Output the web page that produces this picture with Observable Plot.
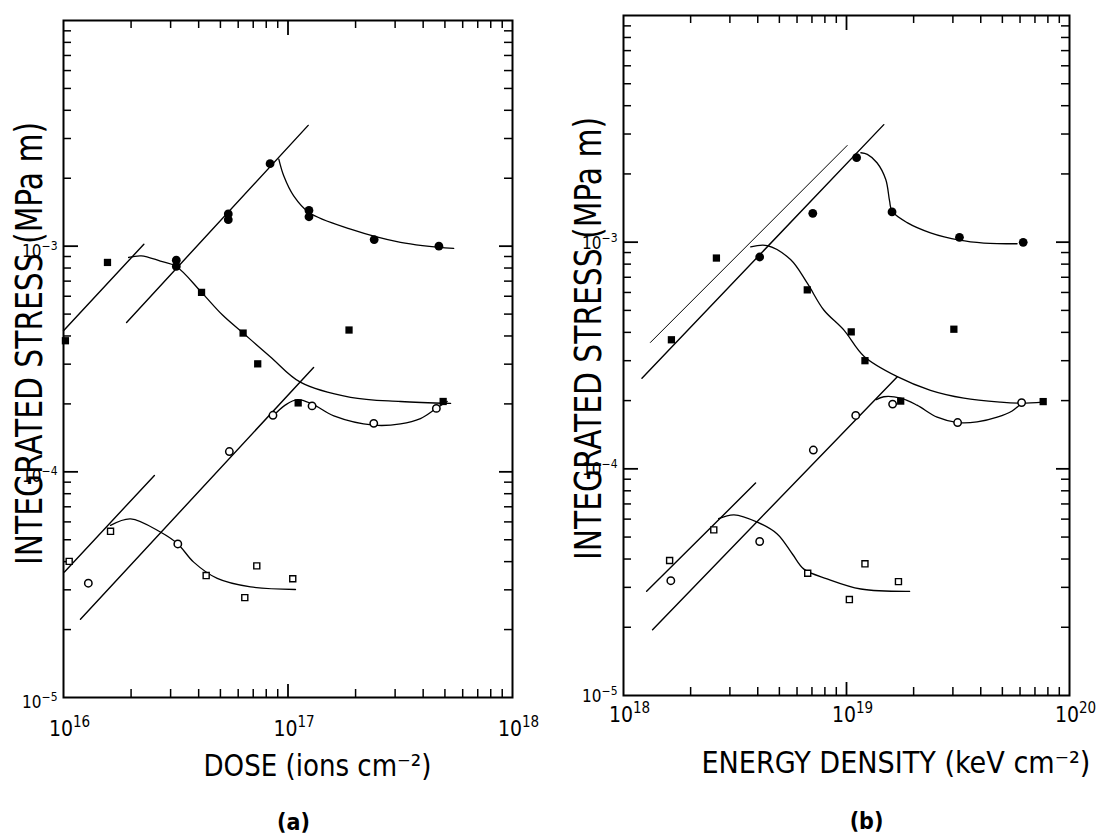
<!DOCTYPE html>
<html><head><meta charset="utf-8">
<script src="https://cdn.jsdelivr.net/npm/d3@7"></script>
<script src="https://cdn.jsdelivr.net/npm/@observablehq/plot@0.6"></script>
<style>
body{margin:0;background:#fff}
#wrap{position:relative;width:1100px;height:836px;overflow:hidden}
#wrap > svg{position:absolute;top:0}
</style></head><body><div id="wrap"></div>
<script>
const FONT = '"DejaVu Sans Condensed","DejaVu Sans",sans-serif';

// ---------------- Panel (a): DOSE ----------------
const aDoseFilledCircle   = [3.18e16, 3.18e16, 5.42e16, 5.42e16, 8.32e16, 1.24e17, 1.24e17, 2.42e17, 4.70e17];
const aStressFilledCircle = [8.67e-4, 8.13e-4, 1.39e-3, 1.31e-3, 2.32e-3, 1.44e-3, 1.35e-3, 1.07e-3, 1.00e-3];
const aDoseFilledSquare   = [1.02e16, 1.57e16, 4.12e16, 6.31e16, 7.33e16, 1.11e17, 1.87e17, 4.91e17];
const aStressFilledSquare = [3.81e-4, 8.47e-4, 6.24e-4, 4.12e-4, 3.01e-4, 2.02e-4, 4.25e-4, 2.05e-4];
const aDoseOpenCircle     = [1.29e16, 3.23e16, 5.48e16, 8.57e16, 1.28e17, 2.41e17, 4.58e17];
const aStressOpenCircle   = [3.21e-5, 4.79e-5, 1.23e-4, 1.78e-4, 1.96e-4, 1.64e-4, 1.91e-4];
const aDoseOpenSquare     = [1.06e16, 1.62e16, 4.32e16, 6.42e16, 7.26e16, 1.05e17];
const aStressOpenSquare   = [4.01e-5, 5.45e-5, 3.47e-5, 2.77e-5, 3.83e-5, 3.36e-5];

// straight fitted lines (a)
const aLineFilledSquareX = [1.0e16, 2.28e16];  const aLineFilledSquareY = [4.22e-4, 1.02e-3];
const aLineFilledCircleX = [1.91e16, 1.23e17]; const aLineFilledCircleY = [4.59e-4, 3.43e-3];
const aLineOpenCircleX   = [1.19e16, 1.30e17]; const aLineOpenCircleY   = [2.22e-5, 2.90e-4];
const aLineOpenSquareX   = [1.01e16, 2.54e16]; const aLineOpenSquareY   = [3.6e-5, 9.64e-5];

// smooth curves (a)
const aCurveFilledCircleX = [9.10e16, 9.57e16, 1.06e17, 1.24e17, 1.90e17, 3.17e17, 5.47e17];
const aCurveFilledCircleY = [2.43e-3, 2.05e-3, 1.67e-3, 1.41e-3, 1.19e-3, 1.04e-3, 9.77e-4];
const aCurveFilledSquareX = [1.95e16, 2.22e16, 2.70e16, 3.18e16, 4.12e16, 5.11e16, 6.31e16, 8.36e16, 1.14e17, 1.90e17, 3.17e17, 5.30e17];
const aCurveFilledSquareY = [8.91e-4, 9.06e-4, 8.59e-4, 8.13e-4, 6.24e-4, 4.95e-4, 4.12e-4, 3.23e-4, 2.49e-4, 2.14e-4, 2.05e-4, 2.01e-4];
const aCurveOpenCircleX   = [8.59e16, 9.75e16, 1.10e17, 1.28e17, 1.60e17, 2.41e17, 3.17e17, 3.89e17, 4.58e17, 5.12e17];
const aCurveOpenCircleY   = [1.77e-4, 1.98e-4, 2.09e-4, 2.00e-4, 1.77e-4, 1.61e-4, 1.63e-4, 1.72e-4, 1.91e-4, 2.05e-4];
const aCurveOpenSquareX   = [1.62e16, 1.99e16, 2.70e16, 3.23e16, 3.80e16, 4.84e16, 6.81e16, 1.08e17];
const aCurveOpenSquareY   = [5.79e-5, 6.19e-5, 5.41e-5, 4.79e-5, 3.98e-5, 3.37e-5, 3.09e-5, 3.01e-5];

// ---------------- Panel (b): ENERGY DENSITY ----------------
const bEnergyFilledCircle = [4.08e18, 7.06e18, 1.11e19, 1.60e19, 3.21e19, 6.2e19];
const bStressFilledCircle = [8.6e-4, 1.34e-3, 2.36e-3, 1.36e-3, 1.05e-3, 9.98e-4];
const bEnergyFilledSquare = [1.64e18, 2.61e18, 6.67e18, 1.05e19, 1.21e19, 1.75e19, 3.03e19, 7.62e19];
const bStressFilledSquare = [3.71e-4, 8.51e-4, 6.16e-4, 4.02e-4, 3.0e-4, 1.99e-4, 4.13e-4, 1.98e-4];
const bEnergyOpenCircle   = [1.63e18, 4.08e18, 7.1e18, 1.10e19, 1.61e19, 3.15e19, 6.1e19];
const bStressOpenCircle   = [3.21e-5, 4.78e-5, 1.21e-4, 1.72e-4, 1.93e-4, 1.60e-4, 1.96e-4];
const bEnergyOpenSquare   = [1.61e18, 2.54e18, 6.7e18, 1.03e19, 1.21e19, 1.71e19];
const bStressOpenSquare   = [3.94e-5, 5.38e-5, 3.46e-5, 2.65e-5, 3.81e-5, 3.18e-5];

// straight fitted lines (b)
const bLineUpperX        = [1.32e18, 1.007e19]; const bLineUpperY        = [3.61e-4, 2.67e-3];
const bLineFilledCircleX = [1.21e18, 1.47e19];  const bLineFilledCircleY = [2.51e-4, 3.30e-3];
const bLineOpenCircleX   = [1.35e18, 1.69e19];  const bLineOpenCircleY   = [1.95e-5, 2.55e-4];
const bLineOpenSquareX   = [1.27e18, 3.91e18];  const bLineOpenSquareY   = [2.88e-5, 8.65e-5];

// smooth curves (b)
const bCurveFilledCircleX = [1.16e19, 1.24e19, 1.37e19, 1.50e19, 1.56e19, 1.60e19, 1.87e19, 2.38e19, 3.21e19, 4.13e19, 5.82e19];
const bCurveFilledCircleY = [2.48e-3, 2.44e-3, 2.24e-3, 1.89e-3, 1.52e-3, 1.37e-3, 1.22e-3, 1.10e-3, 1.02e-3, 9.91e-4, 9.84e-4];
const bCurveFilledSquareX = [3.72e18, 4.41e18, 5.61e18, 6.67e18, 7.91e18, 9.72e18, 1.20e19, 1.69e19, 2.38e19, 3.36e19, 4.91e19, 6.10e19, 7.62e19];
const bCurveFilledSquareY = [9.53e-4, 9.66e-4, 8.38e-4, 6.59e-4, 5.02e-4, 4.10e-4, 3.13e-4, 2.55e-4, 2.22e-4, 2.05e-4, 1.97e-4, 1.95e-4, 1.97e-4];
const bCurveOpenCircleX   = [1.36e19, 1.47e19, 1.75e19, 2.07e19, 2.55e19, 3.15e19, 3.85e19, 4.74e19, 5.53e19, 6.10e19];
const bCurveOpenCircleY   = [2.02e-4, 2.08e-4, 2.05e-4, 1.91e-4, 1.69e-4, 1.60e-4, 1.61e-4, 1.69e-4, 1.80e-4, 1.95e-4];
const bCurveOpenSquareX   = [2.67e18, 3.13e18, 3.98e18, 4.89e18, 5.71e18, 6.44e18, 8.18e18, 1.16e19, 1.92e19];
const bCurveOpenSquareY   = [6.03e-5, 6.27e-5, 5.82e-5, 5.16e-5, 4.22e-5, 3.61e-5, 3.27e-5, 2.95e-5, 2.88e-5];

// ---------------- axes text ( ^ marks a superscript in tick labels ) ----------------
const yDomain = [1e-5, 1e-2];
const yTickValues = [1e-5, 1e-4, 1e-3];
const yTickLabels = ["10^\u22125", "10^\u22124", "10^\u22123"];
const aXTickValues = [1e16, 1e17, 1e18];
const aXTickLabels = ["10^16", "10^17", "10^18"];
const bXTickValues = [1e18, 1e19, 1e20];
const bXTickLabels = ["10^18", "10^19", "10^20"];
const yTitle = "INTEGRATED STRESS (MPa m)";
const aXTitle = "DOSE (ions cm\u207B\u00B2)";
const bXTitle = "ENERGY DENSITY (keV cm\u207B\u00B2)";

function pts(xs, ys) { return xs.map((x, i) => ({x, y: ys[i]})); }
function minorTicks(decades) {
  const out = [];
  for (const d of decades) for (let k = 2; k <= 9; k++) out.push(k * d);
  return out;
}
const NS = "http://www.w3.org/2000/svg";
function supify(t, supSize, shift) {
  const m = t.textContent.match(/^(.*)\^([^\s)]+)(.*)$/);
  if (!m) return false;
  t.textContent = "";
  const a = document.createElementNS(NS, "tspan"); a.textContent = m[1]; t.append(a);
  const b = document.createElementNS(NS, "tspan"); b.textContent = m[2];
  b.setAttribute("dy", -shift); b.setAttribute("font-size", supSize); t.append(b);
  if (m[3]) { const c = document.createElementNS(NS, "tspan"); c.textContent = m[3]; c.setAttribute("dy", shift); t.append(c); }
  return true;
}

function makePanel(c) {
  const H = 836 - c.marginTop - c.marginBottom;
  const W = c.width - c.marginLeft - c.marginRight;
  const yMajor = [1e-4, 1e-3];
  const yMinor = minorTicks([1e-5, 1e-4, 1e-3]);
  const lineMarks = c.lines.map(l => Plot.line(pts(l.x, l.y), {x: "x", y: "y", stroke: "black", strokeWidth: l.w || 1.4}));
  const curveMarks = c.curves.map(l => Plot.line(pts(l.x, l.y), {x: "x", y: "y", curve: "catmull-rom", stroke: "black", strokeWidth: 1.3}));
  const svg = Plot.plot({
    width: c.width, height: 836,
    marginLeft: c.marginLeft, marginRight: c.marginRight, marginTop: c.marginTop, marginBottom: c.marginBottom,
    x: {type: "log", domain: c.xDomain, axis: null},
    y: {type: "log", domain: yDomain, axis: null},
    style: {fontFamily: FONT, background: "white", overflow: "visible", color: "black"},
    marks: [
      // tick marks, all pointing inward
      Plot.ruleX(c.xMajor, {insetTop: H - 13, strokeWidth: 1.8}),
      Plot.ruleX(c.xMinor, {insetTop: H - 8, strokeWidth: 1.5}),
      Plot.ruleX(c.xMajor, {insetBottom: H - 15, strokeWidth: 1.8}),
      Plot.ruleX(c.xMinor, {insetBottom: H - 8, strokeWidth: 1.5}),
      Plot.ruleY(yMajor, {insetRight: W - 15, strokeWidth: 1.8}),
      Plot.ruleY(yMinor, {insetRight: W - 8, strokeWidth: 1.5}),
      Plot.ruleY(yMajor, {insetLeft: W - 13, strokeWidth: 1.8}),
      Plot.ruleY(yMinor, {insetLeft: W - 8, strokeWidth: 1.5}),
      Plot.frame({stroke: "black", strokeWidth: 2}),
      ...lineMarks,
      ...curveMarks,
      Plot.dot(pts(c.fc.x, c.fc.y), {x: "x", y: "y", r: 4.4, fill: "black"}),
      Plot.dot(pts(c.fs.x, c.fs.y), {x: "x", y: "y", symbol: "square", r: 4.1, fill: "black"}),
      Plot.dot(pts(c.oc.x, c.oc.y), {x: "x", y: "y", r: 3.7, fill: "white", stroke: "black", strokeWidth: 1.5}),
      Plot.dot(pts(c.os.x, c.os.y), {x: "x", y: "y", symbol: "square", r: 3.4, fill: "white", stroke: "black", strokeWidth: 1.4}),
      // tick labels
      Plot.text(c.xTickValues, {x: d => d, frameAnchor: "bottom", text: (d, i) => c.xTickLabels[i],
        dx: 6, dy: c.xTickDy, lineAnchor: "bottom", textAnchor: "middle", fontSize: 21}),
      Plot.text(yTickValues, {y: d => d, frameAnchor: "left", text: (d, i) => yTickLabels[i],
        dx: c.yTickDx, dy: c.yTickDy, textAnchor: "end", fontSize: 17}),
      // titles
      Plot.text([yTitle], {frameAnchor: "left", dx: c.yTitleDx, dy: c.yTitleDy, rotate: -90, fontSize: 37, textAnchor: "middle"}),
      Plot.text([c.xTitle], {frameAnchor: "bottom", dx: c.xTitleDx, dy: c.xTitleDy, lineAnchor: "bottom", fontSize: 30, textAnchor: "middle"}),
      Plot.text([c.panelLabel], {frameAnchor: "bottom", dx: c.panelDx, dy: c.panelDy, lineAnchor: "bottom", fontSize: 23, fontWeight: "bold"})
    ]
  });
  svg.querySelectorAll("text").forEach(t => {
    const s = t.textContent;
    if (s === yTitle) { t.setAttribute("textLength", 443); t.setAttribute("lengthAdjust", "spacingAndGlyphs"); }
    else if (s === c.xTitle) { t.setAttribute("textLength", c.xTitleLength); t.setAttribute("lengthAdjust", "spacingAndGlyphs"); }
    else if (/^10\^\d/.test(s)) supify(t, 15, 9);
    else if (/^10\^/.test(s)) supify(t, 12, 7);
  });
  svg.style.left = c.left + "px";
  return svg;
}

const wrap = document.getElementById("wrap");
wrap.append(makePanel({
  left: 0, width: 550, marginLeft: 63, marginRight: 38, marginTop: 20, marginBottom: 139,
  xDomain: [1e16, 1e18], xMajor: [1e17], xMinor: minorTicks([1e16, 1e17]),
  xTickValues: aXTickValues, xTickLabels: aXTickLabels, xTickDy: 38, yTickDx: -6, yTickDy: 5,
  fc: {x: aDoseFilledCircle, y: aStressFilledCircle},
  fs: {x: aDoseFilledSquare, y: aStressFilledSquare},
  oc: {x: aDoseOpenCircle, y: aStressOpenCircle},
  os: {x: aDoseOpenSquare, y: aStressOpenSquare},
  lines: [
    {x: aLineFilledSquareX, y: aLineFilledSquareY},
    {x: aLineFilledCircleX, y: aLineFilledCircleY},
    {x: aLineOpenCircleX, y: aLineOpenCircleY},
    {x: aLineOpenSquareX, y: aLineOpenSquareY}
  ],
  curves: [
    {x: aCurveFilledCircleX, y: aCurveFilledCircleY},
    {x: aCurveFilledSquareX, y: aCurveFilledSquareY},
    {x: aCurveOpenCircleX, y: aCurveOpenCircleY},
    {x: aCurveOpenSquareX, y: aCurveOpenSquareY}
  ],
  yTitleDx: -33, yTitleDy: -15.5,
  xTitle: aXTitle, xTitleLength: 228, xTitleDx: 29.5, xTitleDy: 78,
  panelLabel: "(a)", panelDx: 5.5, panelDy: 132
}));
wrap.append(makePanel({
  left: 550, width: 550, marginLeft: 73, marginRight: 31, marginTop: 15, marginBottom: 141,
  xDomain: [1e18, 1e20], xMajor: [1e19], xMinor: minorTicks([1e18, 1e19]),
  xTickValues: bXTickValues, xTickLabels: bXTickLabels, xTickDy: 26, yTickDx: -6, yTickDy: 1,
  fc: {x: bEnergyFilledCircle, y: bStressFilledCircle},
  fs: {x: bEnergyFilledSquare, y: bStressFilledSquare},
  oc: {x: bEnergyOpenCircle, y: bStressOpenCircle},
  os: {x: bEnergyOpenSquare, y: bStressOpenSquare},
  lines: [
    {x: bLineUpperX, y: bLineUpperY, w: 1.0},
    {x: bLineFilledCircleX, y: bLineFilledCircleY},
    {x: bLineOpenCircleX, y: bLineOpenCircleY},
    {x: bLineOpenSquareX, y: bLineOpenSquareY}
  ],
  curves: [
    {x: bCurveFilledCircleX, y: bCurveFilledCircleY},
    {x: bCurveFilledSquareX, y: bCurveFilledSquareY},
    {x: bCurveOpenCircleX, y: bCurveOpenCircleY},
    {x: bCurveOpenSquareX, y: bCurveOpenSquareY}
  ],
  yTitleDx: -34.4, yTitleDy: -17,
  xTitle: bXTitle, xTitleLength: 389, xTitleDx: 49.4, xTitleDy: 77,
  panelLabel: "(b)", panelDx: 20, panelDy: 133
}));
</script></body></html>
